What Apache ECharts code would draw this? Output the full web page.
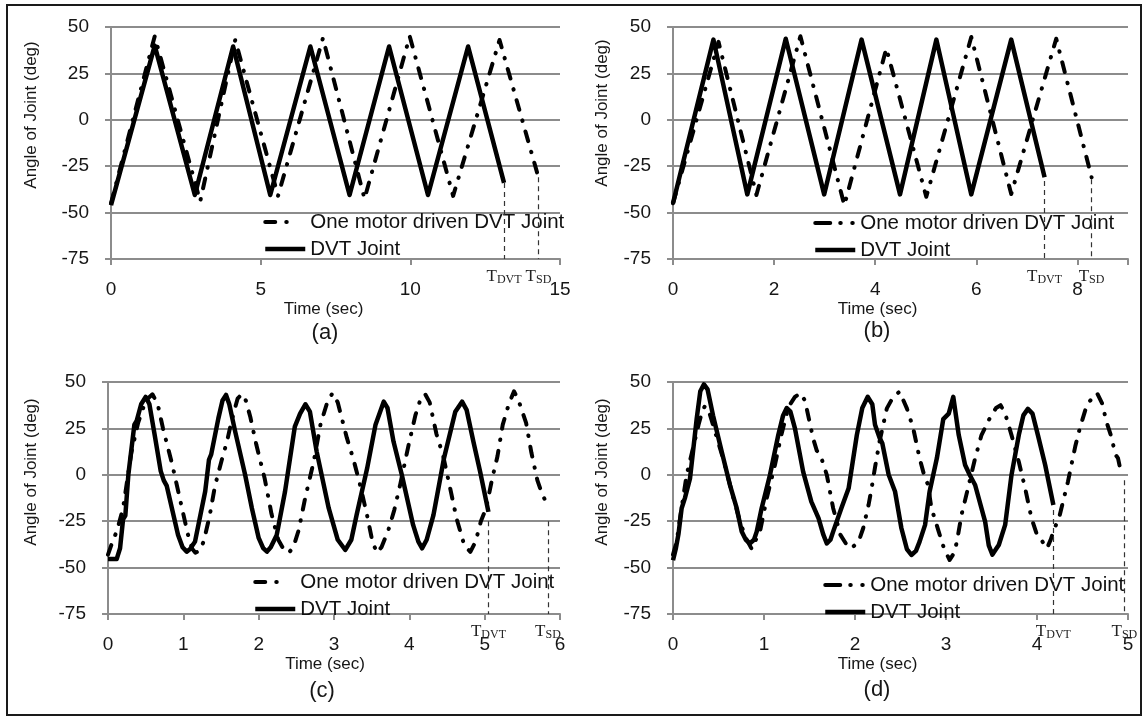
<!DOCTYPE html>
<html>
<head>
<meta charset="utf-8">
<title>Angle of Joint vs Time</title>
<script src="https://cdn.jsdelivr.net/npm/echarts@6.0.0/dist/echarts.min.js"></script>
<style>
  html, body { margin: 0; padding: 0; background: #fff; }
  #chart { width: 1142px; height: 716px; }
</style>
</head>
<body>
<div id="chart"></div>
<script>
// ---------- data: each point is [time (sec), angle (deg)] ----------
const seriesNames = ['One motor driven DVT Joint', 'DVT Joint'];
const panelTags = ['(a)', '(b)', '(c)', '(d)'];
const xMaxes = [15, 9, 6, 5];
const xSteps = [5, 2, 1, 1];
const yMin = -75, yMax = 50, yStep = 25;

// (a)
const oneMotorA = [[0,-45],[1.46,45],[2.98,-44],[4.15,43],[5.58,-41],[7.08,44],[8.47,-42.5],[9.98,45],[11.43,-41],[12.98,43],[14.28,-31]];
const dvtA = [[0,-46],[1.46,40],[2.80,-40.5],[4.08,39.5],[5.32,-40.5],[6.66,39.5],[7.97,-40.5],[9.29,39.5],[10.59,-40.5],[11.93,39.5],[13.13,-34]];

// (b)
const oneMotorB = [[0,-45],[0.90,42],[1.65,-40.5],[2.52,45],[3.39,-46],[4.22,38.5],[5.01,-41.5],[5.90,44.6],[6.69,-40],[7.58,43.7],[8.28,-31]];
const dvtB = [[0,-45],[0.80,43.2],[1.47,-40.2],[2.23,43.7],[2.99,-40.2],[3.73,43.2],[4.49,-40.2],[5.21,43.2],[5.90,-40.2],[6.69,43.2],[7.35,-31]];

// (c)
const oneMotorC = [[0,-43],[0.06,-36],[0.12,-30],[0.2,-18],[0.31,12],[0.40,28],[0.50,40],[0.59,43.4],[0.66,38],[0.73,25],[0.85,6],[0.96,-14],[1.06,-32],[1.12,-40],[1.16,-42],[1.21,-41],[1.27,-36],[1.35,-22],[1.42,-6],[1.51,8],[1.58,18],[1.64,29],[1.72,41],[1.775,43.5],[1.83,40],[1.89,31],[1.97,16],[2.08,-2],[2.17,-21],[2.26,-35],[2.33,-40],[2.40,-42],[2.46,-39],[2.53,-30],[2.62,-12],[2.73,7],[2.82,27],[2.91,39],[2.98,44],[3.05,39],[3.17,20],[3.26,8],[3.35,-6],[3.44,-22],[3.51,-36],[3.57,-42],[3.63,-39],[3.72,-30],[3.80,-19],[3.88,-5],[3.99,16],[4.08,32],[4.15,41],[4.21,43.5],[4.27,39],[4.36,22],[4.45,10],[4.53,-5],[4.63,-24],[4.73,-38],[4.81,-41.5],[4.88,-36],[4.95,-25],[5.02,-18],[5.10,-2],[5.17,10],[5.24,27],[5.32,38],[5.39,45],[5.45,40],[5.55,28],[5.62,12],[5.70,-3],[5.76,-10],[5.84,-17]];
const dvtC = [[0,-45.4],[0.115,-45.4],[0.16,-39.6],[0.2,-24],[0.23,-22],[0.27,0],[0.35,27],[0.38,29],[0.44,38],[0.50,42],[0.55,38],[0.62,21.4],[0.70,2],[0.74,-3],[0.78,-6],[0.93,-32.4],[0.99,-39],[1.045,-41.4],[1.09,-40],[1.155,-36],[1.29,-9],[1.34,8],[1.37,11],[1.465,30.4],[1.52,40],[1.567,43],[1.61,38],[1.69,23],[1.82,0],[1.91,-18],[2.0,-34],[2.06,-39.5],[2.11,-41.4],[2.16,-39],[2.24,-32.4],[2.35,-9],[2.48,26],[2.55,33],[2.62,38],[2.68,34],[2.77,12.5],[2.93,-18],[3.05,-35],[3.15,-40.5],[3.23,-35],[3.30,-21.7],[3.44,3.5],[3.55,26.8],[3.66,39.4],[3.71,36],[3.79,17.9],[3.90,0],[4.05,-27],[4.12,-36],[4.17,-39.6],[4.23,-35],[4.32,-21.7],[4.46,8.9],[4.61,34],[4.70,39.4],[4.76,35],[4.85,17.9],[4.94,1.7],[5.05,-20]];

// (d)
const oneMotorD = [[0,-43],[0.04,-36],[0.077,-23.5],[0.15,0],[0.22,14.3],[0.28,26.8],[0.32,34],[0.35,37],[0.39,35],[0.44,26.8],[0.55,8.9],[0.645,-9],[0.736,-25.2],[0.80,-34],[0.865,-40],[0.91,-35],[0.956,-30.6],[1.03,-12.7],[1.12,5.3],[1.19,21.4],[1.27,36.7],[1.34,42],[1.40,44],[1.45,40],[1.54,19.6],[1.58,13],[1.62,10.7],[1.69,0],[1.76,-18],[1.84,-32.4],[1.91,-37.8],[1.96,-39.6],[2.04,-36],[2.09,-28.8],[2.15,-16],[2.18,-8],[2.22,4],[2.27,18],[2.35,35.8],[2.42,42],[2.49,44.8],[2.57,35.8],[2.64,25],[2.71,8.9],[2.77,-2],[2.80,-5],[2.84,-18],[2.92,-30.6],[2.98,-40],[3.04,-45.9],[3.09,-42],[3.12,-36],[3.17,-21.7],[3.25,-5.5],[3.32,8.9],[3.39,21.4],[3.48,30.4],[3.55,36],[3.60,37.5],[3.65,33],[3.72,21.4],[3.80,7],[3.87,-7.3],[3.94,-23.5],[4.0,-32.4],[4.06,-36],[4.11,-39.6],[4.15,-35],[4.18,-30.6],[4.25,-21.7],[4.34,-3.7],[4.42,15.2],[4.47,25],[4.55,38],[4.62,42],[4.66,44],[4.72,38],[4.76,29],[4.82,20],[4.86,11],[4.89,9],[4.92,2]];
const dvtD = [[0,-46],[0.03,-40],[0.06,-32],[0.095,-18],[0.13,-12.7],[0.187,-2],[0.22,12.5],[0.26,30],[0.30,45],[0.34,48.7],[0.38,46],[0.44,32],[0.535,12.5],[0.626,-5.5],[0.70,-18],[0.755,-30.6],[0.80,-35],[0.846,-37],[0.89,-35],[0.92,-30.6],[0.974,-18],[1.01,-11],[1.066,0],[1.157,21.4],[1.21,32],[1.25,36],[1.29,34],[1.34,25],[1.43,1.7],[1.52,-14.5],[1.60,-23.5],[1.65,-32],[1.69,-37],[1.73,-35],[1.76,-30.6],[1.85,-18],[1.93,-7.3],[2.02,21.4],[2.08,36],[2.14,42],[2.19,38],[2.22,27],[2.27,20],[2.30,17],[2.37,0],[2.44,-9],[2.51,-28.8],[2.57,-40],[2.62,-43.2],[2.67,-41],[2.71,-36],[2.77,-27],[2.82,-9],[2.90,9],[2.97,30],[3.03,33],[3.08,42],[3.14,21.4],[3.21,5.3],[3.26,0],[3.32,-5.5],[3.43,-25.2],[3.47,-38],[3.51,-43],[3.55,-40],[3.58,-37.8],[3.65,-27],[3.72,0],[3.80,21.4],[3.85,32],[3.90,35.5],[3.95,33],[4.01,21.4],[4.09,5.3],[4.18,-16.3]];

// end-of-run markers: [time, angle where the dashed drop line starts]
const tDvtMarks = [[13.13,-34],[7.35,-33],[5.05,-25],[4.18,-19]];
const tSdMarks  = [[14.28,-31],[8.28,-32],[5.84,-25],[4.96,-3]];

const oneMotorRuns = [oneMotorA, oneMotorB, oneMotorC, oneMotorD];
const dvtRuns = [dvtA, dvtB, dvtC, dvtD];

// ---------- layout ----------
const grids = [
  { left: 111, top: 27,  width: 449, height: 232 },
  { left: 673, top: 27,  width: 455, height: 232 },
  { left: 108, top: 382, width: 452, height: 232 },
  { left: 673, top: 382, width: 455, height: 232 }
];
const yNameGap   = [71, 62, 68, 62];
const yNameShift = [56, 60, 52, 52];
const xNameShift = [24, 46, 18, 46];
const legendPos  = [[263, 211], [813, 212], [253, 571], [823, 574]];
const tagPos     = [[325, 333], [877, 331], [322, 691], [877, 690]];

const sans = "'Liberation Sans', Arial, Helvetica, sans-serif";
const serif = "'Liberation Serif', 'Times New Roman', serif";
const gray = '#8c8c8c';
const ink = '#161616';
const dashDot = [10, 11, 0.5, 11];
// legend swatches: dash + dot (left panels), dash + two dots (right panels)
const legendDashes = [[10, 11, 0.5, 40], [15, 10, 0.5, 11.5, 0.5, 40], [10, 11, 0.5, 40], [15, 10, 0.5, 11.5, 0.5, 40]];

function dropLine(mark, sub) {
  return {
    silent: true,
    symbol: ['none', 'none'],
    animation: false,
    lineStyle: { type: [5, 4], color: '#333', width: 1.2 },
    label: {
      show: true, position: 'end', distance: 9,
      formatter: '{t|T}{s|' + sub + '}',
      rich: {
        t: { fontFamily: serif, fontSize: 17, color: '#222', lineHeight: 18 },
        s: { fontFamily: serif, fontSize: 12, color: '#222', lineHeight: 12, verticalAlign: 'bottom' }
      }
    },
    emphasis: { disabled: true },
    data: [[{ coord: [mark[0], mark[1]] }, { coord: [mark[0], yMin] }]]
  };
}

const option = {
  animation: false,
  backgroundColor: '#fff',
  grid: grids.map(g => Object.assign({ containLabel: false, outerBoundsMode: 'none' }, g)),
  xAxis: grids.map((g, i) => ({
    type: 'value', gridIndex: i, min: 0, max: xMaxes[i], interval: xSteps[i],
    axisLine: { show: true, onZero: false, lineStyle: { color: gray, width: 2 } },
    axisTick: { show: true, length: 6, inside: false, lineStyle: { color: gray, width: 2 } },
    splitLine: { show: false },
    axisLabel: {
      show: true, margin: 21, fontFamily: sans, fontSize: 19, color: ink,
      formatter: v => (v % xSteps[i] === 0 ? String(v) : '')
    },
    name: 'Time (sec)', nameLocation: 'middle', nameGap: 42,
    nameTextStyle: { fontFamily: sans, fontSize: 17, color: ink, padding: [0, xNameShift[i], 0, 0] }
  })),
  yAxis: grids.map((g, i) => ({
    type: 'value', gridIndex: i, min: yMin, max: yMax, interval: yStep,
    axisLine: { show: true, lineStyle: { color: gray, width: 2 } },
    axisTick: { show: true, length: 6, inside: false, lineStyle: { color: gray, width: 2 } },
    splitLine: { show: true, lineStyle: { color: gray, width: 2 } },
    axisLabel: { show: true, margin: 22, fontFamily: sans, fontSize: 19, color: ink },
    name: 'Angle of Joint (deg)', nameLocation: 'middle', nameGap: yNameGap[i],
    nameTextStyle: { fontFamily: sans, fontSize: 17, color: ink, padding: [0, 0, 0, yNameShift[i]] }
  })),
  legend: grids.map((g, i) => ({
    orient: 'vertical', left: legendPos[i][0], top: legendPos[i][1], padding: 0,
    itemWidth: 40, itemHeight: 14, itemGap: 5,
    selectedMode: false,
    data: [
      { name: seriesNames[0], lineStyle: { type: legendDashes[i], width: 4, cap: 'round' } },
      { name: seriesNames[1], lineStyle: { width: 4.5 } }
    ],
    textStyle: { fontFamily: sans, fontSize: 20.5, color: '#111', lineHeight: 22 },
    lineStyle: { width: 4.5 },
    itemStyle: { opacity: 0, color: 'rgba(0,0,0,0)', borderWidth: 0 }
  })),
  series: [],
  graphic: [
    {
      type: 'rect', silent: true, z: 100,
      shape: { x: 7, y: 5, width: 1134, height: 710 },
      style: { fill: null, stroke: '#1a1a1a', lineWidth: 2 }
    }
  ]
};

for (let i = 0; i < 4; i++) {
  option.series.push({
    type: 'line', name: seriesNames[0], xAxisIndex: i, yAxisIndex: i,
    data: oneMotorRuns[i], symbol: 'none', showSymbol: false, z: 3,
    lineStyle: { color: '#000', width: 4, type: dashDot, cap: 'round', join: 'round' },
    itemStyle: { color: '#000' },
    emphasis: { disabled: true },
    markLine: dropLine(tSdMarks[i], 'SD')
  });
  option.series.push({
    type: 'line', name: seriesNames[1], xAxisIndex: i, yAxisIndex: i,
    data: dvtRuns[i], symbol: 'none', showSymbol: false, z: 2,
    lineStyle: { color: '#000', width: 4.5, type: 'solid', join: 'round' },
    itemStyle: { color: '#000' },
    emphasis: { disabled: true },
    markLine: dropLine(tDvtMarks[i], 'DVT')
  });
  option.graphic.push({
    type: 'text', silent: true, x: tagPos[i][0], y: tagPos[i][1],
    style: {
      text: panelTags[i], font: '22px ' + sans, fill: ink,
      textAlign: 'center', textVerticalAlign: 'middle', align: 'center', verticalAlign: 'middle'
    }
  });
}

const chart = echarts.init(document.getElementById('chart'), null, { renderer: 'canvas' });
chart.setOption(option);
</script>
</body>
</html>
